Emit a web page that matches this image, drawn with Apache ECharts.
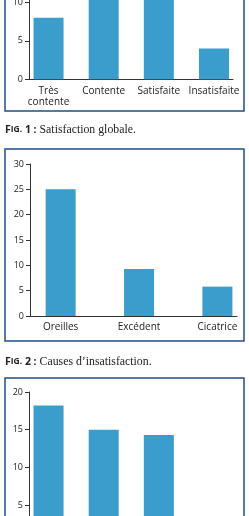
<!DOCTYPE html>
<html>
<head>
<meta charset="utf-8">
<script src="https://cdn.jsdelivr.net/npm/echarts@6/dist/echarts.min.js"></script>
<style>
  html, body { margin: 0; padding: 0; background: #fff; }
  #chart { width: 249px; height: 516px; }
</style>
</head>
<body>
<div id="chart"></div>
<script>
// Fig. 1 : satisfaction globale
var cats1 = ['Très\ncontente', 'Contente', 'Satisfaite', 'Insatisfaite'];
var vals1 = [8, 12, 12, 4];
// Fig. 2 : causes d'insatisfaction
var cats2 = ['Oreilles', 'Excédent', 'Cicatrice'];
var vals2 = [25, 9.3, 5.8];
// Fig. 3 (coupée en bas)
var vals3 = [18.2, 15, 14.3];

var barColor = '#3b9dcc';
var frameColor = '#1f4f86';

function toPairs(vals) {
	return vals.map(function(v, i) { return [i, v]; });
}

function xAx(gi, cats, min, max, showLabel) {
	return {
		type : 'value',
		gridIndex : gi,
		min : min,
		max : max,
		splitLine : { show : false },
		axisTick : { show : false },
		axisLine : { show : true, onZero : false, lineStyle : { color : '#333', width : 1 } },
		axisLabel : {
			show : showLabel,
			customValues : cats.map(function(c, i) { return i; }),
			formatter : function(v) { return cats[Math.round(v)] || ''; },
			color : '#222',
			fontFamily : 'Open Sans',
			fontSize : 10,
			lineHeight : 11,
			margin : 6
		}
	};
}

function yAx(gi, max) {
	return {
		type : 'value',
		gridIndex : gi,
		min : 0,
		max : max,
		interval : 5,
		splitLine : { show : false },
		axisLine : { show : true, onZero : false, lineStyle : { color : '#333', width : 1 } },
		axisTick : { show : true, length : 4, lineStyle : { color : '#333' } },
		axisLabel : {
			color : '#222',
			fontFamily : 'Open Sans',
			fontSize : 9,
			margin : 6
		}
	};
}

function bars(gi, vals) {
	return {
		type : 'bar',
		xAxisIndex : gi,
		yAxisIndex : gi,
		data : toPairs(vals),
		barWidth : 30,
		itemStyle : { color : barColor },
		silent : true
	};
}

function caption(y, num, text) {
	return {
		type : 'text',
		left : 5,
		top : y,
		style : {
			text : '{a|F}{b|IG.}{a| ' + num + ' :}{c| ' + text + '}',
			rich : {
				a : { fontFamily : 'Open Sans', fontWeight : 'bold', fontSize : 10.5, fill : '#222' },
				b : { fontFamily : 'Open Sans', fontWeight : 'bold', fontSize : 8.5, fill : '#222' },
				c : { fontFamily : 'Liberation Serif', fontSize : 11.8, fill : '#222' }
			}
		}
	};
}

function frame(y, h) {
	return {
		type : 'rect',
		shape : { x : 5, y : y, width : 239, height : h },
		style : { fill : 'none', stroke : frameColor, lineWidth : 1.5 },
		silent : true
	};
}

var myChart = echarts.init(document.getElementById('chart'), null, { renderer : 'canvas' });
option = {
	animation : false,
	grid : [
		{ left : 29, top : -36.2, width : 204, height : 115.5, outerBoundsMode : 'none', containLabel : false },
		{ left : 30, top : 164, width : 207, height : 152, outerBoundsMode : 'none', containLabel : false },
		{ left : 29, top : 392, width : 204, height : 150.6, outerBoundsMode : 'none', containLabel : false }
	],
	xAxis : [
		xAx(0, cats1, -0.3545, 3.345, true),
		xAx(1, cats2, -0.391, 2.25, true),
		xAx(2, ['', '', ''], -0.3545, 3.345, false)
	],
	yAxis : [ yAx(0, 15), yAx(1, 30), yAx(2, 20) ],
	series : [ bars(0, vals1), bars(1, vals2), bars(2, vals3) ],
	graphic : [
		frame(-40, 151),
		frame(149, 192),
		frame(378, 200),
		caption(124, 1, 'Satisfaction globale.'),
		caption(356, 2, 'Causes d\u2019insatisfaction.')
	]
};
myChart.setOption(option);
</script>
</body>
</html>
